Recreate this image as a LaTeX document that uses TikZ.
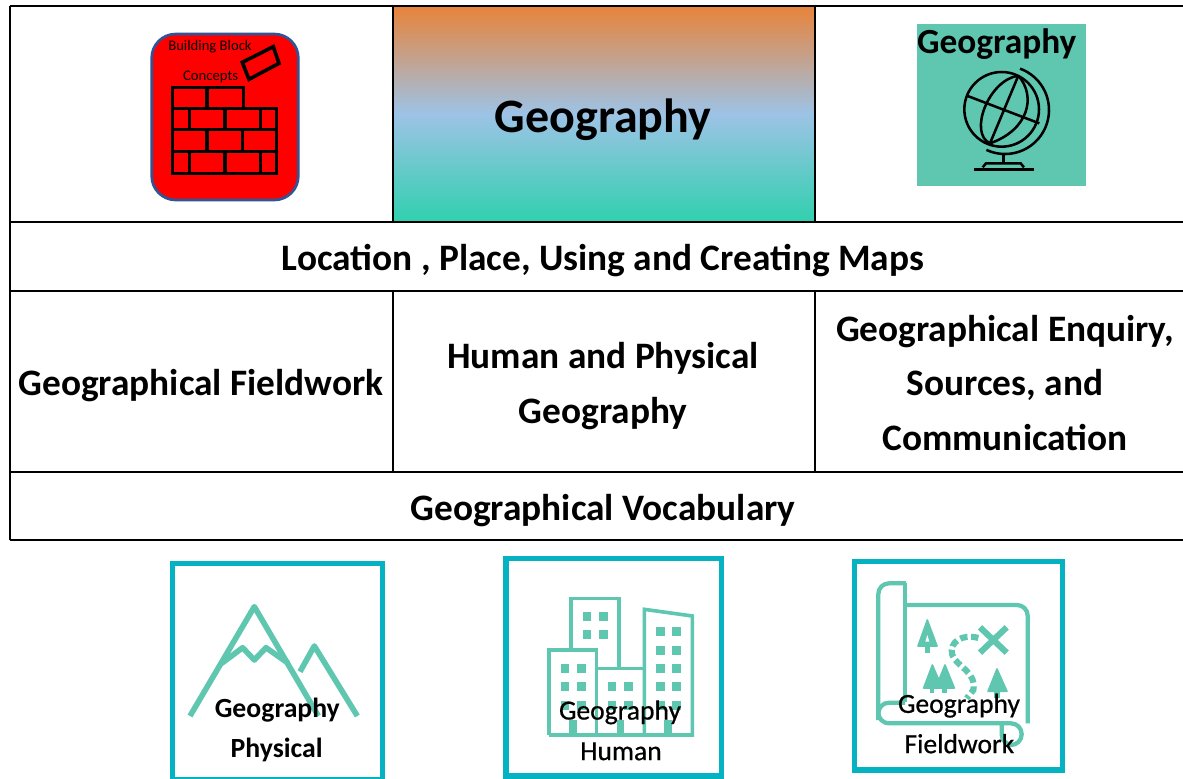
\documentclass[tikz,border=0pt]{standalone}
\usepackage{fontspec}
\setmainfont{Carlito}
\definecolor{teal1}{HTML}{5FC6B0}
\definecolor{frame1}{HTML}{04B2C2}
\definecolor{topc}{HTML}{E8833A}
\definecolor{midc}{HTML}{9DC3E6}
\definecolor{botc}{HTML}{30D0AE}
\definecolor{blueedge}{HTML}{2F5597}
\tikzset{
  grid line/.style={draw=black,line width=1.1pt},
  head/.style={font=\bfseries\fontsize{28}{40.9}\selectfont,align=center,inner sep=0pt,text=black},
  title/.style={font=\bfseries\fontsize{36}{40}\selectfont,inner sep=0pt,text=black},
  badge/.style={draw=frame1,line width=3.8pt,fill=white},
  icon/.style={draw=teal1,line width=4.2pt,line join=round},
  mapline/.style={draw=teal1,line width=3.2pt,line join=round},
  iconthin/.style={draw=teal1,line width=2.7pt,line join=miter},
  win/.style={fill=teal1},
  tree/.style={fill=teal1,draw=teal1,line width=1.2pt,line join=round},
  cap bold/.style={font=\bfseries\fontsize{20.8}{24}\selectfont,inner sep=0pt,text=black},
  cap plain/.style={font=\fontsize{20.7}{24}\selectfont\addfontfeature{FakeBold=0.6},inner sep=0pt,text=black},
  brick/.style={draw=black,line width=2.7pt},
  globe/.style={draw=black,line width=1.9pt},
  zoomed/.style={x=0.25pt,y=-0.25pt}
}
\begin{document}
\begin{tikzpicture}[x=0.75pt,y=-0.75pt]
\useasboundingbox (0,0) rectangle (1183,779);
\fill[white] (0,0) rectangle (1183,779);
% gradient title cell
\shade[top color=topc,bottom color=botc,middle color=midc] (393,6) rectangle (815,222);
% table grid
\draw[grid line] (10,6) -- (1183,6);
\draw[grid line] (10,222) -- (1183,222);
\draw[grid line] (10,291) -- (1183,291);
\draw[grid line] (10,472) -- (1183,472);
\draw[grid line] (10,540) -- (1183,540);
\draw[grid line] (10,6) -- (10,540);
\draw[grid line] (393,6) -- (393,222);
\draw[grid line] (815,6) -- (815,222);
\draw[grid line] (393,291) -- (393,472);
\draw[grid line] (815,291) -- (815,472);
% table text
\node[title] (maintitle) at (603,120) {Geography};
\node[head] (location) at (603,261) {Location , Place, Using and Creating Maps};
\node[head] (fieldwork) at (201,386) {Geographical Fieldwork};
\node[head] (humanphys) at (603,386) {Human and Physical\\Geography};
\node[head] (enquiry) at (1005,383) {Geographical Enquiry,\\Sources, and\\Communication};
\node[head] (vocab) at (603,511) {Geographical Vocabulary};
% building block icon
\begin{scope}[shift={(130,10)},zoomed]
\draw[fill=red,draw=blueedge,line width=2pt,rounded corners=18pt] (65,72) rectangle (505,570);
\draw[brick] (128,295) -- (128,232) -- (340,232) -- (340,295);
\draw[brick] (128,295) rectangle (440,490);
\draw[brick] (128,358) -- (440,358) (128,425) -- (440,425);
\draw[brick] (231,232) -- (231,295) (178,295) -- (178,358) (285,295) -- (285,358) (392,295) -- (392,358);
\draw[brick] (231,358) -- (231,425) (337,358) -- (337,425);
\draw[brick] (178,425) -- (178,490) (285,425) -- (285,490) (392,425) -- (392,490);
\draw[brick] (337,157) -- (430,110) -- (447,160) -- (357,208) -- cycle;
\node[font=\fontsize{11}{13}\selectfont,inner sep=0pt,text=black] (bb1) at (240,109) {Building Block};
\node[font=\fontsize{11}{13}\selectfont,inner sep=0pt,text=black] (bb2) at (242,201) {Concepts};
\end{scope}
% globe icon
\begin{scope}[shift={(900,10)},zoomed]
\fill[teal1] (52,42) rectangle (557,527);
\node[font=\bfseries\fontsize{26.5}{30}\selectfont,inner sep=0pt,text=black] (globetitle) at (290,103) {Geography};
\draw[globe] (305,298) circle [radius=112];
\draw[globe] plot[domain=-70:115,samples=50] ({315+132*cos(\x)},{300+132*sin(\x)});
\draw[globe] (355,197) -- (270,400);
\draw[globe] (355,197) .. controls (265,210) and (205,370) .. (270,400);
\draw[globe] (355,197) .. controls (410,260) and (385,360) .. (270,400);
\draw[globe] (203,258) -- (418,340);
\draw[globe] (310,430) -- (310,460);
\draw[globe] (222,479) -- (402,479);
\draw[globe] (248,472) -- (258,460) -- (362,460) -- (372,472);
\end{scope}
% physical badge
\draw[badge] (172.5,563.5) rectangle (382.5,780);
\begin{scope}[shift={(160,550)},zoomed]
\draw[icon] (90,498) -- (283,170) -- (475,498);
\draw[icon] (185,340) -- (248,293) -- (283,330) -- (318,293) -- (385,340);
\draw[icon] (420,365) -- (463,288) -- (592,498);
\node[cap bold] (p1) at (352,481) {Geography};
\node[cap bold] (p2) at (350,600) {Physical};
\end{scope}
% human badge
\draw[badge] (506,558.5) rectangle (721.5,776);
\begin{scope}[shift={(495,550)},zoomed]
\draw[iconthin] (228,295) -- (228,145) -- (372,145) -- (372,352);
\draw[iconthin] (162,555) -- (162,300) -- (305,300) -- (305,555);
\draw[iconthin] (305,355) -- (448,355);
\draw[iconthin] (448,555) -- (448,178) -- (592,198) -- (592,555) -- cycle;
\draw[iconthin] (162,555) -- (592,555);
\foreach \wx/\wy in {263/185,312/185,263/240,312/240,
  197/342,246/342,197/397,246/397,197/452,246/452,
  338/397,387/397,338/452,387/452,
  483/232,532/232,483/287,532/287,483/342,532/342,483/397,532/397,483/452,532/452}
  \fill[win] (\wx,\wy) rectangle ++(26,27);
\foreach \dx in {222,365,508}
  \fill[win] (\dx,510) rectangle ++(23,45);
\node[cap plain] (h1) at (375,487) {Geography};
\node[cap plain] (h2) at (378,604) {Human};
\end{scope}
% fieldwork badge
\draw[badge] (854.5,561.5) rectangle (1062.5,770);
\begin{scope}[shift={(845,550)},zoomed]
\draw[mapline,rounded corners=8pt]
  (183,100) -- (100,100) -- (100,520) -- (530,520) -- (530,585) -- (470,585) -- (470,520);
\draw[mapline] (180,100) -- (180,455);
\draw[mapline,rounded corners=8pt] (180,165) -- (548,165) -- (548,520);
\draw[mapline,rounded corners=8pt] (180,458) -- (100,458) -- (100,510);
\draw[tree] (247,210) -- (276,288) -- (219,288) -- cycle;
\fill[win] (239,285) rectangle (255,310);
\fill[white] (247,255) -- (253,275) -- (241,275) -- cycle;
\draw[tree] (262,345) -- (292,414) -- (236,414) -- cycle;
\draw[tree] (300,345) -- (328,414) -- (272,414) -- cycle;
\fill[win] (254,410) rectangle (268,430);
\fill[win] (292,410) rectangle (306,430);
\draw[tree] (456,357) -- (486,424) -- (429,424) -- cycle;
\fill[win] (447,420) rectangle (465,445);
\draw[teal1,line width=4.6pt] (405,232) -- (485,308) (485,232) -- (405,308);
\draw[teal1,line width=4.6pt,dash pattern=on 5.5pt off 2.8pt] (400,264) .. controls (355,250) and (310,275) .. (322,315) .. controls (335,350) and (395,365) .. (385,420) -- (365,445);
\node[cap plain] (f1) at (342,467) {Geography};
\node[cap plain] (f2) at (343,581) {Fieldwork};
\end{scope}
\end{tikzpicture}
\end{document}
